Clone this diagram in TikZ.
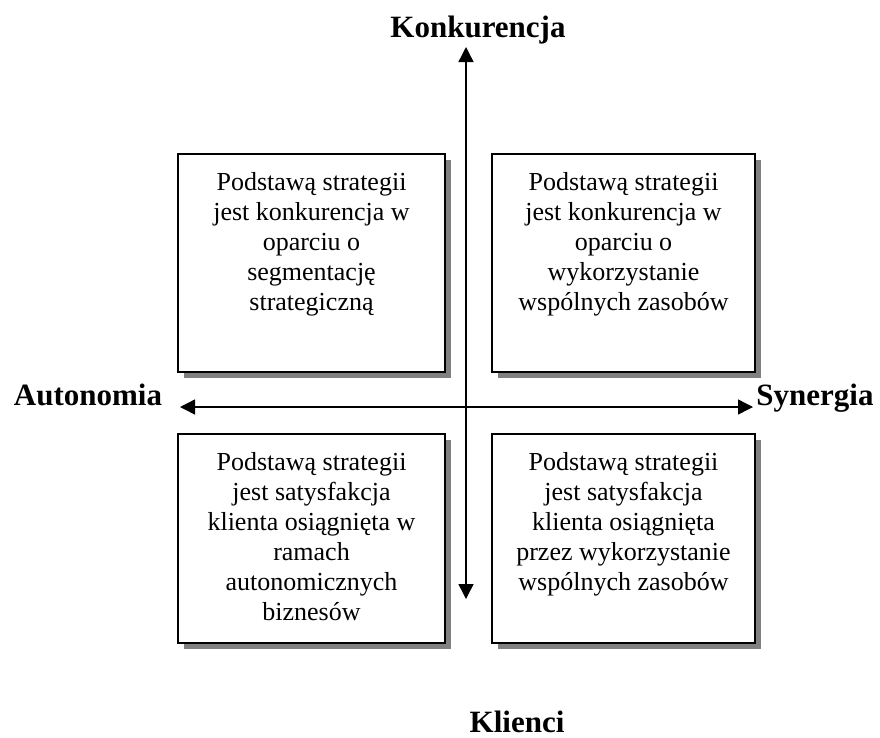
\documentclass[tikz,border=0pt]{standalone}
\usepackage{fontspec}
\setmainfont{Liberation Serif}
\usetikzlibrary{arrows.meta,shadows}

\tikzset{
  quadbox/.style={draw=black, line width=1.6pt, fill=white, outer sep=0pt, inner sep=0pt,
    general shadow={fill=black!50, shadow xshift=6pt, shadow yshift=-6pt}},
  quadtext/.style={anchor=north, inner sep=0pt, align=center,
    font=\fontsize{26}{30}\selectfont},
  axislabel/.style={anchor=base, inner sep=0pt, font=\fontsize{31}{37}\selectfont\bfseries},
  axis/.style={line width=1.4pt, {Triangle[length=15pt,width=15pt]}-{Triangle[length=15pt,width=15pt]}}
}

\begin{document}
\begin{tikzpicture}[x=1pt, y=-1pt]
  \useasboundingbox (0,0) rectangle (880,737);

  % four quadrant boxes
  \node[quadbox, minimum width=267pt, minimum height=218pt] (tl) at (311.5,263) {};
  \node[quadbox, minimum width=263pt, minimum height=218pt] (tr) at (623.5,263) {};
  \node[quadbox, minimum width=267pt, minimum height=209pt] (bl) at (311.5,538.5) {};
  \node[quadbox, minimum width=263pt, minimum height=209pt] (br) at (623.5,538.5) {};

  \node[quadtext] (tltext) at ([yshift=-18pt]tl.north)
    {Podstawą strategii\\jest konkurencja w\\oparciu o\\segmentację\\strategiczną};
  \node[quadtext] (trtext) at ([yshift=-18pt]tr.north)
    {Podstawą strategii\\jest konkurencja w\\oparciu o\\wykorzystanie\\wspólnych zasobów};
  \node[quadtext] (bltext) at ([yshift=-18pt]bl.north)
    {Podstawą strategii\\jest satysfakcja\\klienta osiągnięta w\\ramach\\autonomicznych\\biznesów};
  \node[quadtext] (brtext) at ([yshift=-18pt]br.north)
    {Podstawą strategii\\jest satysfakcja\\klienta osiągnięta\\przez wykorzystanie\\wspólnych zasobów};

  % axes
  \coordinate (vtop) at (466,47);
  \coordinate (vbot) at (466,599);
  \coordinate (hleft) at (180,407);
  \coordinate (hright) at (753,407);
  \draw[axis] (vbot) -- (vtop);
  \draw[axis] (hleft) -- (hright);

  % axis labels
  \node[axislabel] (konk) at (478,37) {Konkurencja};
  \node[axislabel] (auto) at (88,405) {Autonomia};
  \node[axislabel] (syn) at (815,405) {Synergia};
  \node[axislabel] (kl) at (517,732) {Klienci};
\end{tikzpicture}
\end{document}
